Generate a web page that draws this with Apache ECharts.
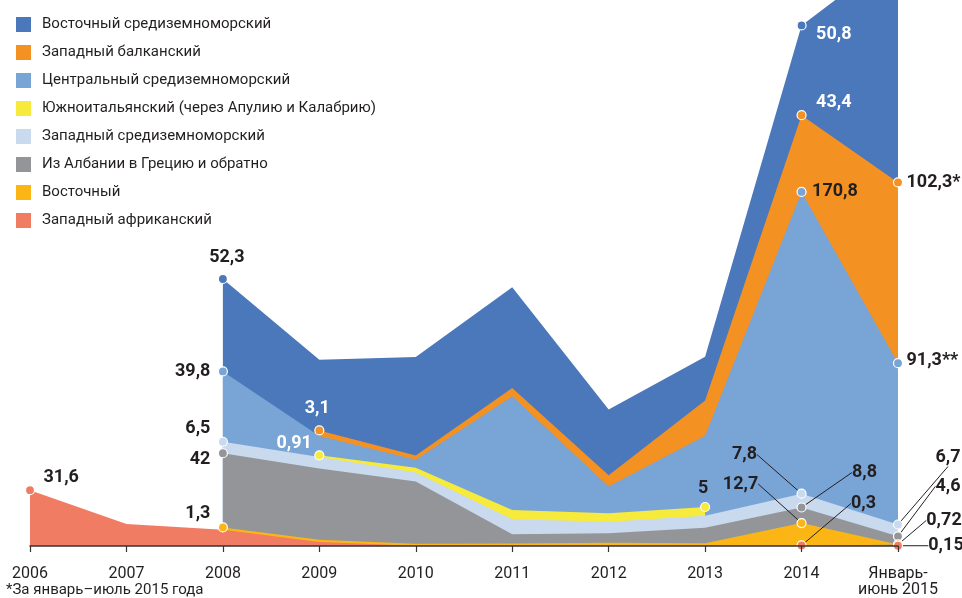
<!DOCTYPE html>
<html>
<head>
    <meta charset="utf-8">
    <title>Маршруты нелегальной миграции</title>
    <script src="https://cdn.jsdelivr.net/npm/echarts@6/dist/echarts.min.js"></script>
    <style>
        html, body { margin: 0; padding: 0; background: #fff; }
        #chart { width: 962px; height: 598px; }
    </style>
</head>
<body>
<div id="chart"></div>
<script>
    // категории по оси X
    var categories = ['2006', '2007', '2008', '2009', '2010', '2011', '2012', '2013', '2014', 'Январь-\nиюнь 2015'];

    // тыс. пересечений, слои снизу вверх
    var westAfrican = [31.6, 12.5, 9.2, 2.2, 0.2, 0.34, 0.17, 0.28, 0.3, 0.15];
    var eastern     = [null, null, 1.3, 1.3, 1.05, 1.05, 1.6, 1.3, 12.7, 0.72];
    var albania     = [null, null, 42, 40.3, 35.3, 5.3, 5.5, 8.7, 8.8, 4.6];
    var westMed     = [null, null, 6.5, 6.6, 5.0, 8.4, 6.4, 6.8, 7.8, 6.7];
    var apulia      = [null, null, null, 0.91, 2.8, 5.3, 4.8, 5, null, null];
    var centralMed  = [null, null, 39.8, 11.0, 4.5, 64.3, 15.2, 40.3, 170.8, 91.3];
    var westBalkan  = [null, null, null, 3.1, 2.4, 4.7, 6.4, 19.9, 43.4, 102.3];
    var eastMed     = [null, null, 52.3, 40.0, 55.7, 57.0, 37.2, 24.8, 50.8, 130];

    var layers = [
        {name: 'Западный африканский', values: westAfrican, color: '#f07c63'},
        {name: 'Восточный', values: eastern, color: '#fbb616'},
        {name: 'Из Албании в Грецию и обратно', values: albania, color: '#939598'},
        {name: 'Западный средиземноморский', values: westMed, color: '#c9d9ee'},
        {name: 'Южноитальянский (через Апулию и Калабрию)', values: apulia, color: '#f6ea3c'},
        {name: 'Центральный средиземноморский', values: centralMed, color: '#79a4d6'},
        {name: 'Западный балканский', values: westBalkan, color: '#f39122'},
        {name: 'Восточный средиземноморский', values: eastMed, color: '#4a78bb'}
    ];

    var DARK = '#231f20', WHITE = '#ffffff';
    // подписи: слой, индекс, суффикс, цвет, размещение, dx, dy
    var notes = [
        [0, 0, '', DARK, 'right', 4, -13],
        [0, 8, '', DARK, 'lead', 62, -42],
        [0, 9, '', DARK, 'lead', 48, 0],
        [1, 2, '', DARK, 'left', -3, -14],
        [1, 8, '', DARK, 'lead', -61, -39],
        [1, 9, '', DARK, 'lead', 46, -24],
        [2, 2, '', DARK, 'left', -3, 6],
        [2, 8, '', DARK, 'lead', 63, -35],
        [2, 9, '', DARK, 'lead', 50, -50],
        [3, 2, '', DARK, 'left', -3, -13],
        [3, 8, '', DARK, 'lead', -57, -39],
        [3, 9, '', DARK, 'lead', 50, -67],
        [4, 3, '', WHITE, 'left', 2, -12],
        [4, 7, '', DARK, 'top', -2, 0],
        [5, 2, '', DARK, 'left', -3, 0],
        [5, 8, '', DARK, 'right', 1, 0],
        [5, 9, '**', DARK, 'right', -1, -3],
        [6, 3, '', WHITE, 'top', -2, -3],
        [6, 8, '', WHITE, 'right', 5, -13],
        [6, 9, '*', DARK, 'right', -1, 0],
        [7, 2, '', DARK, 'top', 4, -3],
        [7, 8, '', WHITE, 'right', 5, 9]
    ];

    var GAP = 9.5; // радиус маркера + отступ

    // накопленные значения (верхняя граница каждого слоя)
    var cumulative = layers.map(function (layer, li) {
        return layer.values.map(function (v, i) {
            if (v == null) return null;
            var s = 0;
            for (var k = 0; k <= li; k++) {
                var x = layers[k].values[i];
                if (x != null) s += x;
            }
            return +s.toFixed(3);
        });
    });

    function fmt(v) {
        return String(v).replace('.', ',');
    }

    var series = [];
    var shifts = {};

    layers.forEach(function (layer, li) {
        series.push({
            name: layer.name,
            type: 'line',
            data: cumulative[li],
            symbol: 'none',
            z: 2 + (layers.length - li),
            itemStyle: {color: layer.color},
            lineStyle: {width: 0, opacity: 0},
            areaStyle: {color: layer.color, opacity: 1},
            silent: true
        });
    });

    layers.forEach(function (layer, li) {
        var pts = [];
        notes.forEach(function (n) {
            if (n[0] !== li) return;
            var idx = n[1], how = n[4], ox = n[5], oy = n[6];
            var align = 'center', vAlign = 'middle', dx = ox, dy = oy;
            if (how === 'right') { align = 'left'; dx = GAP + ox; }
            else if (how === 'left') { align = 'right'; dx = -GAP + ox; }
            else if (how === 'top') { vAlign = 'bottom'; dy = -GAP + oy; }
            var item = {
                value: [idx, cumulative[li][idx]],
                label: {
                    show: true,
                    formatter: fmt(layer.values[idx]) + n[2],
                    color: n[3],
                    position: 'inside',
                    align: align,
                    verticalAlign: vAlign
                },
                labelLine: {show: how === 'lead', lineStyle: {color: DARK, width: 1}}
            };
            shifts[li + '_' + pts.length] = [dx, dy];
            pts.push(item);
        });
        if (!pts.length) return;
        (function (layerIndex) {
            series.push({
                name: 'pts' + layerIndex,
                type: 'scatter',
                data: pts,
                symbol: 'circle',
                symbolSize: 9,
                z: 20 + (layers.length - layerIndex),
                itemStyle: {color: layer.color, borderColor: '#ffffff', borderWidth: 1.2, opacity: 1},
                label: {
                    fontFamily: 'Roboto',
                    fontWeight: 'bold',
                    fontSize: 18
                },
                labelLayout: function (params) {
                    var s = shifts[layerIndex + '_' + params.dataIndex];
                    return s ? {dx: s[0], dy: s[1]} : {};
                }
            });
        })(li);
    });

    var chart = echarts.init(document.getElementById('chart'));

    var option = {
        animation: false,
        title: {
            text: '*За январь–июль 2015 года',
            left: 2,
            top: 583,
            padding: [0, 4, 0, 4],
            textStyle: {fontFamily: 'Roboto', fontWeight: 'normal', fontSize: 15, color: DARK}
        },
        legend: {
            orient: 'vertical',
            left: 11,
            top: 12,
            itemWidth: 15,
            itemHeight: 15,
            itemGap: 13,
            icon: 'rect',
            data: layers.map(function (l) { return l.name; }).reverse(),
            selectedMode: false,
            textStyle: {fontFamily: 'Roboto', fontSize: 15, color: DARK, padding: [0, 0, 0, 6]}
        },
        grid: {left: 30, right: 64, top: 0, bottom: 50, containLabel: false},
        xAxis: {
            type: 'category',
            data: categories,
            boundaryGap: false,
            axisLine: {lineStyle: {color: '#333', width: 1.5}},
            axisTick: {show: true, length: 6, lineStyle: {color: '#333', width: 1.2}},
            axisLabel: {
                fontFamily: 'Roboto',
                fontSize: 16,
                color: DARK,
                margin: 20,
                lineHeight: 16,
                interval: 0
            },
            splitLine: {show: false},
            z: 40
        },
        yAxis: {
            type: 'value',
            min: 0,
            max: 309,
            show: false,
            splitLine: {show: false}
        },
        series: series
    };

    chart.setOption(option);
</script>
</body>
</html>
